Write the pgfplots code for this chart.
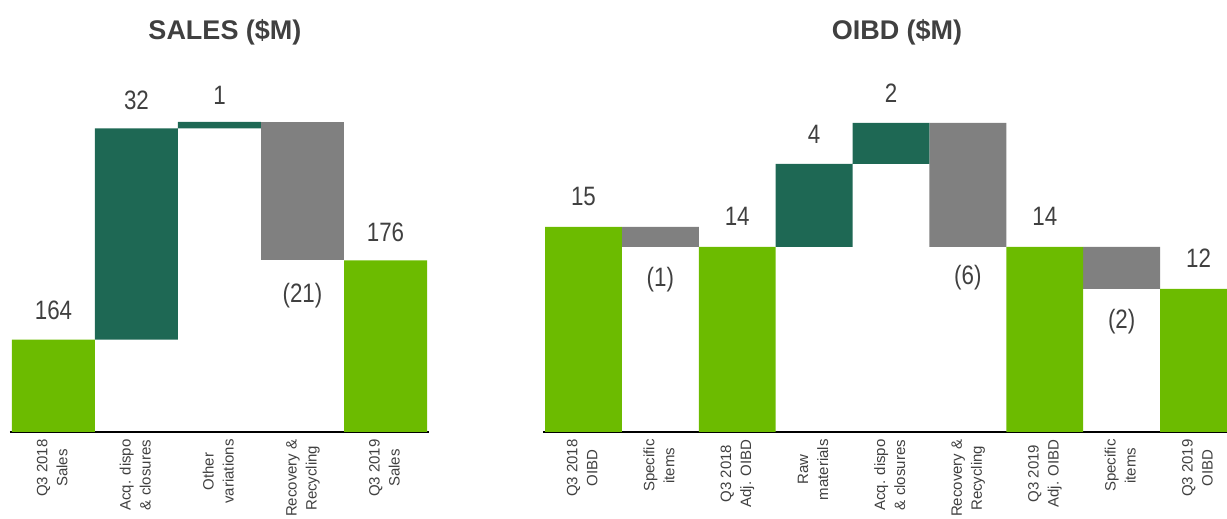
\documentclass[border=0pt]{standalone}
\usepackage{pgfplots}
\pgfplotsset{compat=1.18}
\usepackage{fontspec}
\setmainfont{Liberation Sans}
\newfontfamily\narrowfont[FakeStretch=0.84]{Liberation Sans}
\definecolor{lgreen}{RGB}{108,187,0}
\definecolor{dgreen}{RGB}{30,104,84}
\definecolor{bgray}{RGB}{128,128,128}
\definecolor{txt}{RGB}{64,64,64}
\newcommand\numl[1]{{\narrowfont\fontsize{13.3}{16}\selectfont #1}}
\newcommand\tickf{\fontsize{7.5}{10}\selectfont}
\newcommand\cl[2]{{\tickf\color{txt}\begin{tabular}{@{}c@{}}\tickf\color{txt}#1\\\tickf\color{txt}#2\end{tabular}}}
\tikzset{catlab/.style={rotate=90, anchor=east, inner sep=0pt}}
\begin{document}
\begin{tikzpicture}
% ---------------- SALES ----------------
\begin{axis}[
  scale only axis, anchor=south west, ybar stacked, bar width=1,
  axis x line=bottom, axis y line=none,
  x axis line style={-, black, line width=1pt},
  xtick=\empty,
  at={(5pt,43.5pt)}, width=209.5pt, height=186pt,
  xmin=-0.524, xmax=4.524, ymin=150, ymax=206.36,
]
\addplot[draw=none, fill=none] coordinates {(0,0) (1,164) (2,196) (3,176) (4,0)};
\addplot[draw=none, fill=lgreen] coordinates {(0,164) (1,0) (2,0) (3,0) (4,176)};
\addplot[draw=none, fill=dgreen] coordinates {(0,0) (1,32) (2,1) (3,0) (4,0)};
\addplot[draw=none, fill=bgray] coordinates {(0,0) (1,0) (2,0) (3,21) (4,0)};
\node[text=txt] at (axis cs:0,168.48) {\numl{164}};
\node[text=txt] at (axis cs:1,200.3) {\numl{32}};
\node[text=txt] at (axis cs:2,201.06) {\numl{1}};
\node[text=txt] at (axis cs:3,170.6) {\numl{(21)}};
\node[text=txt] at (axis cs:4,180.3) {\numl{176}};
\end{axis}
% ---------------- OIBD ----------------
\begin{axis}[
  scale only axis, anchor=south west, ybar stacked, bar width=1,
  axis x line=bottom, axis y line=none,
  x axis line style={-, black, line width=1pt},
  xtick=\empty,
  at={(271.5pt,43.5pt)}, width=347pt, height=186pt,
  xmin=-0.526, xmax=8.5, ymin=4.75, ymax=23.35,
]
\addplot[draw=none, fill=none] coordinates {(0,0) (1,14) (2,0) (3,14) (4,18.15) (5,14) (6,0) (7,11.9) (8,0)};
\addplot[draw=none, fill=lgreen] coordinates {(0,15) (1,0) (2,14) (3,0) (4,0) (5,0) (6,14) (7,0) (8,11.9)};
\addplot[draw=none, fill=dgreen] coordinates {(0,0) (1,0) (2,0) (3,4.15) (4,2.05) (5,0) (6,0) (7,0) (8,0)};
\addplot[draw=none, fill=bgray] coordinates {(0,0) (1,1) (2,0) (3,0) (4,0) (5,6.2) (6,0) (7,2.1) (8,0)};
\node[text=txt] at (axis cs:0,16.55) {\numl{15}};
\node[text=txt] at (axis cs:1,12.35) {\numl{(1)}};
\node[text=txt] at (axis cs:2,15.55) {\numl{14}};
\node[text=txt] at (axis cs:3,19.65) {\numl{4}};
\node[text=txt] at (axis cs:4,21.7) {\numl{2}};
\node[text=txt] at (axis cs:5,12.45) {\numl{(6)}};
\node[text=txt] at (axis cs:6,15.55) {\numl{14}};
\node[text=txt] at (axis cs:7,10.25) {\numl{(2)}};
\node[text=txt] at (axis cs:8,13.45) {\numl{12}};
\end{axis}
% category labels
\node[catlab] at (26.75pt,40pt) {\cl{Q3 2018}{Sales}};
\node[catlab] at (68.25pt,40pt) {\cl{Acq. dispo}{\& closures}};
\node[catlab] at (109.75pt,40pt) {\cl{Other}{variations}};
\node[catlab] at (151.25pt,40pt) {\cl{Recovery \&}{Recycling}};
\node[catlab] at (192.75pt,40pt) {\cl{Q3 2019}{Sales}};
\node[catlab] at (291.7pt,40pt) {\cl{Q3 2018}{OIBD}};
\node[catlab] at (330.15pt,40pt) {\cl{Specific}{items}};
\node[catlab] at (368.6pt,40pt) {\cl{Q3 2018}{Adj. OIBD}};
\node[catlab] at (407.05pt,40pt) {\cl{Raw}{materials}};
\node[catlab] at (445.5pt,40pt) {\cl{Acq. dispo}{\& closures}};
\node[catlab] at (483.9pt,40pt) {\cl{Recovery \&}{Recycling}};
\node[catlab] at (522.35pt,40pt) {\cl{Q3 2019}{Adj. OIBD}};
\node[catlab] at (560.8pt,40pt) {\cl{Specific}{items}};
\node[catlab] at (599.25pt,40pt) {\cl{Q3 2019}{OIBD}};
\node[text=txt, font=\bfseries\fontsize{13.5}{16}\selectfont] at (112.5pt,243.5pt) {SALES (\$M)};
\node[text=txt, font=\bfseries\fontsize{13.5}{16}\selectfont] at (448.5pt,243.5pt) {OIBD (\$M)};
\pgfresetboundingbox
\useasboundingbox (0,0) rectangle (613.5pt,259.5pt);
\end{tikzpicture}
\end{document}
